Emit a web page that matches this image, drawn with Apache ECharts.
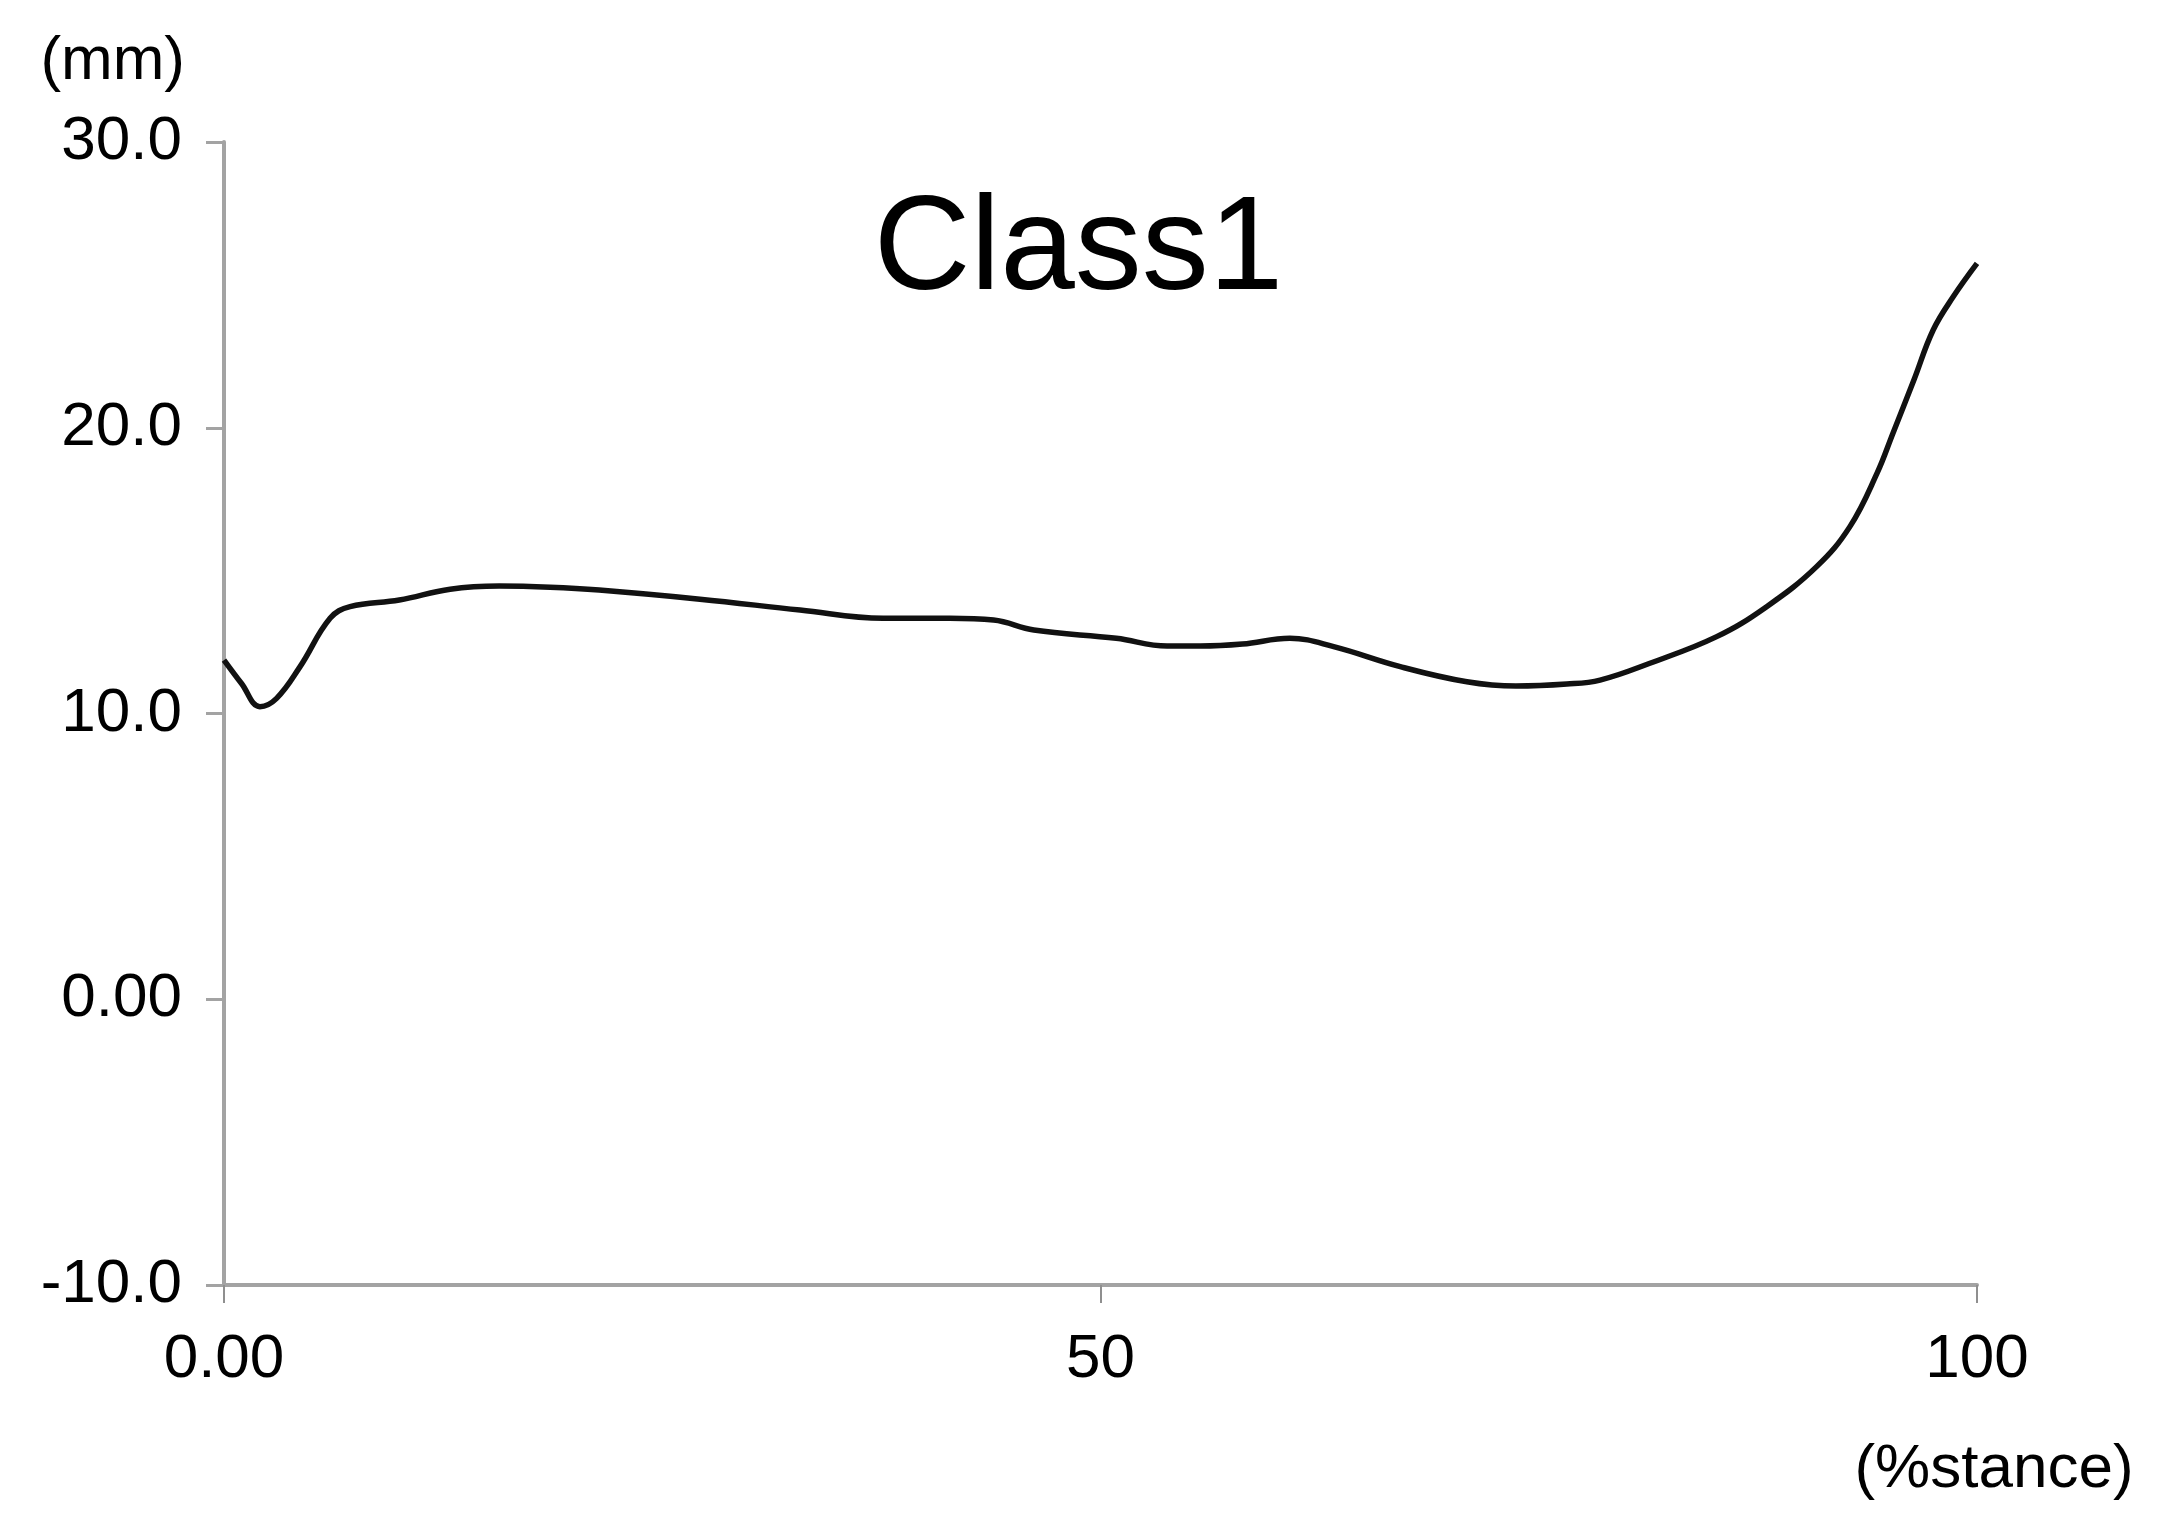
<!DOCTYPE html>
<html>
<head>
<meta charset="utf-8">
<script src="https://cdn.jsdelivr.net/npm/echarts@6/dist/echarts.min.js"></script>
<style>
	html, body { margin: 0; padding: 0; background: #fff; }
	#chart { width: 2157px; height: 1520px; }
</style>
</head>
<body>
<div id="chart"></div>
<script>
// % of stance phase
var stancePct = [0, 1, 2.05, 3, 4.34, 6.05, 7.19, 10, 12.9, 15.7, 18.6, 21.4, 27.15,
	32.86, 37.6, 41.4, 43.9, 46.2, 50.9, 53.8, 55.7, 58.1, 60.8, 63.3, 67.1, 70.9,
	73.7, 76.6, 78.5, 81.3, 85.15, 88, 90.85, 92.75, 94.3, 95.2, 96.4, 97.5, 98.65, 100];
// displacement (mm)
var displacementMm = [11.87, 11.05, 10.24, 10.53, 11.64, 13.33, 13.74, 13.97, 14.35, 14.46, 14.42, 14.32, 14.0,
	13.62, 13.33, 13.33, 13.27, 12.92, 12.63, 12.36, 12.36, 12.43, 12.63, 12.34, 11.64, 11.11,
	10.96, 11.03, 11.17, 11.75, 12.69, 13.74, 15.14, 16.54, 18.41, 19.8, 21.67, 23.42, 24.59, 25.75];

var yTickLabels = { '30': '30.0', '20': '20.0', '10': '10.0', '0': '0.00', '-10': '-10.0' };
var xTickLabels = { '0': '0.00', '50': '50', '100': '100' };

var chartTitle = 'Class1';
var yUnit = '(mm)';
var xUnit = '(%stance)';

var font = 'Liberation Sans';
var axisColor = '#a3a3a3';
var tickColor = '#8f8f8f';

var myChart = echarts.init(document.getElementById('chart'));

var seriesData = stancePct.map(function(x, i) {
	return [x, displacementMm[i]];
});

var option = {
	backgroundColor: '#fff',
	animation: false,
	title: {
		text: chartTitle,
		left: 'center',
		top: 185,
		padding: 0,
		textStyle: { fontFamily: font, fontSize: 134, fontWeight: 'normal', color: '#000' }
	},
	grid: { left: 224, right: 180, top: 142, bottom: 235, containLabel: false },
	xAxis: {
		type: 'value',
		min: 0,
		max: 100,
		interval: 50,
		name: xUnit,
		nameLocation: 'end',
		nameGap: 0,
		nameTextStyle: {
			fontFamily: font, fontSize: 62, color: '#000',
			align: 'center', verticalAlign: 'top',
			padding: [154, 0, 0, 34]
		},
		axisLine: { onZero: false, lineStyle: { color: axisColor, width: 4 } },
		axisTick: { length: 18, lineStyle: { color: tickColor, width: 2 } },
		splitLine: { show: false },
		axisLabel: {
			margin: 44,
			fontFamily: font, fontSize: 62, color: '#000',
			formatter: function(v) { return xTickLabels[String(v)] || ''; }
		}
	},
	yAxis: {
		type: 'value',
		min: -10,
		max: 30,
		interval: 10,
		name: yUnit,
		nameLocation: 'end',
		nameGap: 49,
		nameTextStyle: {
			fontFamily: font, fontSize: 62, color: '#000',
			align: 'right',
			padding: [0, 39, 0, 0]
		},
		axisLine: { show: true, onZero: false, lineStyle: { color: axisColor, width: 4 } },
		axisTick: { show: true, length: 18, lineStyle: { color: axisColor, width: 3 } },
		splitLine: { show: false },
		axisLabel: {
			margin: 42,
			fontFamily: font, fontSize: 62, color: '#000',
			formatter: function(v) { return yTickLabels[String(v)] || ''; }
		}
	},
	series: [{
		type: 'line',
		data: seriesData,
		smooth: 0.4,
		showSymbol: false,
		lineStyle: { color: '#111', width: 5.5 }
	}]
};

myChart.setOption(option);
</script>
</body>
</html>
